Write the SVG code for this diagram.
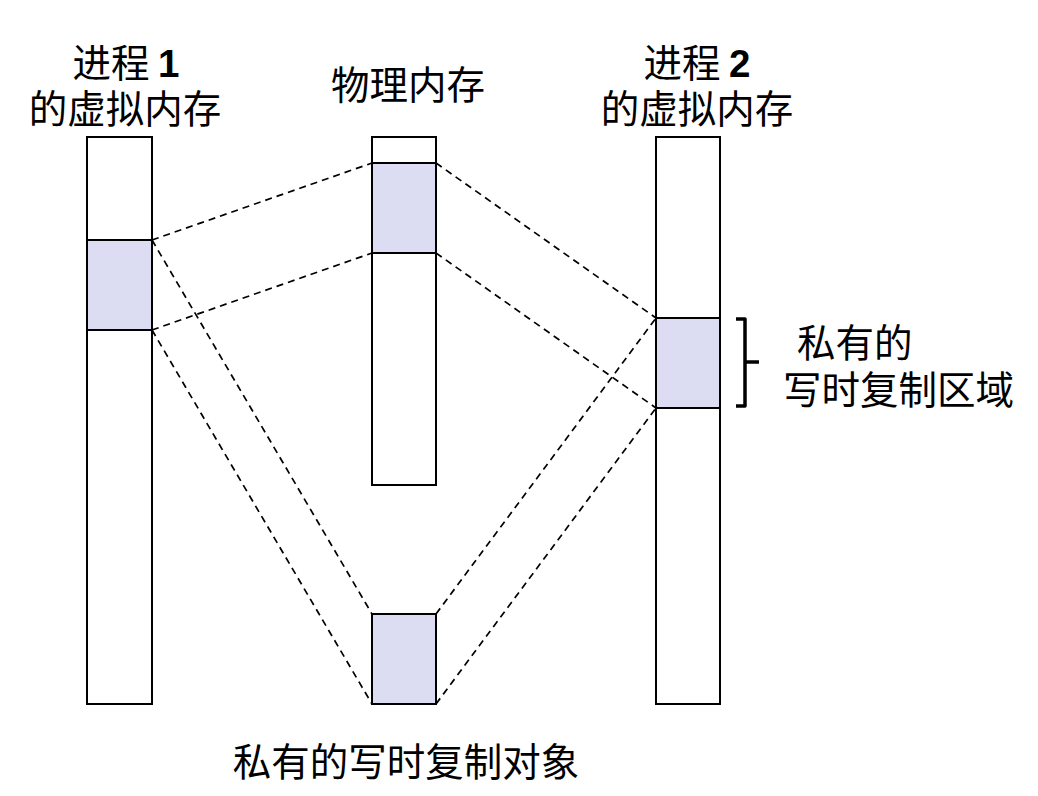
<svg xmlns="http://www.w3.org/2000/svg" width="1038" height="796" viewBox="0 0 1038 796">
<style>
.box{fill:#ffffff;stroke:#000000;stroke-width:2}
.sh{fill:#dcdcf2;stroke:#000000;stroke-width:2}
.dash{stroke:#000000;stroke-width:1.7;stroke-dasharray:7,5;fill:none}
.t{font-family:"Noto Sans CJK SC","Noto Sans",sans-serif;font-size:38.5px;fill:#000000}
.num{font-family:"Liberation Sans",Arial,sans-serif;font-weight:bold}
.br{fill:none;stroke:#000000;stroke-width:3.5;stroke-linejoin:round}
</style>
<rect width="1038" height="796" fill="#ffffff"/>
<g id="connectors">
<line class="dash" x1="152" y1="240" x2="372" y2="163"/>
<line class="dash" x1="152" y1="330" x2="372" y2="253"/>
<line class="dash" x1="436" y1="163" x2="656" y2="318"/>
<line class="dash" x1="436" y1="253" x2="656" y2="408"/>
<line class="dash" x1="152" y1="240" x2="372" y2="614"/>
<line class="dash" x1="152" y1="330" x2="372" y2="704"/>
<line class="dash" x1="436" y1="614" x2="656" y2="318"/>
<line class="dash" x1="436" y1="704" x2="656" y2="408"/>
</g>
<g id="vm1">
<rect class="box" x="87" y="137" width="65" height="567"/>
<rect class="sh" x="87" y="240" width="65" height="90"/>
<text class="t" x="126" y="77" text-anchor="middle">进程 <tspan class="num">1</tspan></text>
<text class="t" x="125" y="123" text-anchor="middle">的虚拟内存</text>
</g>
<g id="phys">
<rect class="box" x="372" y="137" width="64" height="348"/>
<rect class="sh" x="372" y="163" width="64" height="90"/>
<text class="t" x="408" y="99" text-anchor="middle">物理内存</text>
</g>
<g id="obj">
<rect class="sh" x="372" y="614" width="64" height="90"/>
<text class="t" x="406" y="776" text-anchor="middle">私有的写时复制对象</text>
</g>
<g id="vm2">
<rect class="box" x="656" y="137" width="64" height="567"/>
<rect class="sh" x="656" y="318" width="64" height="90"/>
<text class="t" x="697" y="77" text-anchor="middle">进程 <tspan class="num">2</tspan></text>
<text class="t" x="697" y="123" text-anchor="middle">的虚拟内存</text>
</g>
<g id="cow-label">
<path class="br" d="M736,319 H745 V362 H759 M745,362 V406 H736"/>
<text class="t" x="797" y="357">私有的</text>
<text class="t" x="783" y="404">写时复制区域</text>
</g>
</svg>
